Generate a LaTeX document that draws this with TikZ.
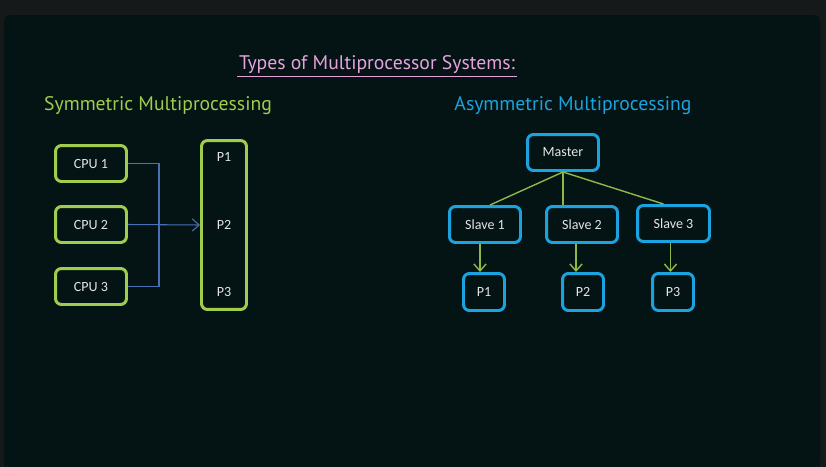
\documentclass[tikz,border=0pt]{standalone}
\usepackage{fontspec}
\setmainfont{Carlito}
\newfontfamily\headfont{PT Sans}
\usetikzlibrary{arrows.meta}

\definecolor{frame}{HTML}{151919}
\definecolor{panel}{HTML}{041414}
\definecolor{titlepink}{HTML}{E6A2DC}
\definecolor{smpgreen}{HTML}{A0CD4E}
\definecolor{ampblue}{HTML}{1BA3DF}
\definecolor{busblue}{HTML}{4A70B5}
\definecolor{linkgreen}{HTML}{8DB848}
\definecolor{boxtext}{HTML}{E4E4E4}

\tikzset{
  heading/.style={font=\headfont\fontsize{11.2}{13}\selectfont, inner sep=1pt},
  cpubox/.style={draw=smpgreen, line width=1.7pt, rounded corners=0.12cm,
    minimum width=1.42cm, minimum height=0.72cm, text=boxtext,
    font=\fontsize{8}{9}\selectfont},
  ampbox/.style={cpubox, draw=ampblue},
  ptext/.style={text=boxtext, font=\fontsize{8}{9}\selectfont},
  bus/.style={busblue, line width=0.6pt},
  link/.style={linkgreen, line width=0.8pt},
}

\begin{document}
\begin{tikzpicture}[x=0.02cm, y=-0.02cm]
\useasboundingbox (0,0) rectangle (826,467);
\fill[frame] (0,0) rectangle (826,467);
\fill[panel, rounded corners=0.12cm] (4,15) rectangle (820,467);
\fill[panel] (4,40) rectangle (820,467);

% headings
\node[heading, text=titlepink] (title) at (377,65) {Types of Multiprocessor Systems:};
\draw[titlepink, line width=0.6pt] (title.south west) -- (title.south east);
\node[heading, text=smpgreen] (smp) at (158,106) {Symmetric Multiprocessing};
\node[heading, text=ampblue] (amp) at (573,106) {Asymmetric Multiprocessing};

% symmetric side
\node[cpubox] (cpu1) at (91,163.5) {CPU 1};
\node[cpubox] (cpu2) at (91,224.5) {CPU 2};
\node[cpubox] (cpu3) at (91,286.5) {CPU 3};
\node[cpubox, minimum width=0.9cm, minimum height=3.38cm] (pbox) at (224,225) {};
\node[ptext] (pa) at (224,157) {P1};
\node[ptext] (pb) at (224,225) {P2};
\node[ptext] (pc) at (224,292) {P3};
\coordinate (bus) at (159,225);
\draw[bus] (cpu1.east) -| (bus) |- (cpu3.east);
\draw[bus, -{Straight Barb[length=4pt, width=7pt]}] (cpu2.east) -- (pbox.west);

% asymmetric side
\node[ampbox] (master) at (563,152.5) {Master};
\node[ampbox] (slave1) at (485,224.5) {Slave 1};
\node[ampbox] (slave2) at (582,224.5) {Slave 2};
\node[ampbox, minimum width=1.44cm] (slave3) at (673.5,223.5) {Slave 3};
\node[ampbox, minimum width=0.82cm, minimum height=0.74cm] (p1) at (484,292) {P1};
\node[ampbox, minimum width=0.82cm, minimum height=0.74cm] (p2) at (583,292) {P2};
\node[ampbox, minimum width=0.82cm, minimum height=0.74cm] (p3) at (673,292) {P3};
\draw[link] (master.south) -- ([xshift=0.1cm]slave1.north);
\draw[link] (master.south) -- (master.south |- slave2.north);
\draw[link] (master.south) -- ([xshift=-0.2cm]slave3.north);
\foreach \s/\p/\dx in {slave1/p1/-0.1cm, slave2/p2/-0.12cm, slave3/p3/-0.06cm}
  \draw[link, -{Straight Barb[length=4pt, width=7pt]}]
    ([xshift=\dx]\s.south) -- ([xshift=\dx]\s.south |- \p.north);
\end{tikzpicture}
\end{document}
